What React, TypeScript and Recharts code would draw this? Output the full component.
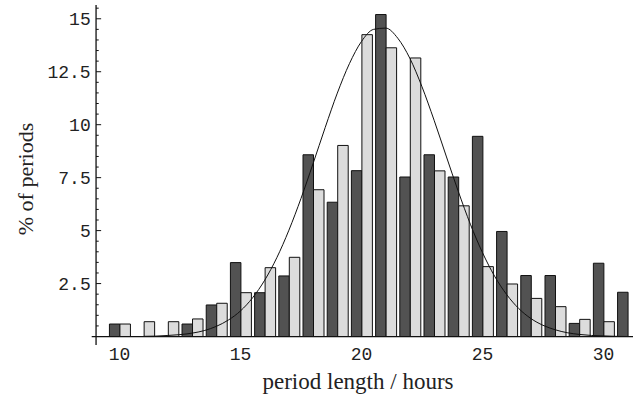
import { ComposedChart, Bar, Line, XAxis, YAxis, ReferenceLine } from "recharts"

// histogram bins (hours) and the two series of percentages
const HOURS = [10, 11, 12, 13, 14, 15, 16, 17, 18, 19, 20, 21, 22, 23, 24, 25, 26, 27, 28, 29, 30, 31]
const DARK = [0.59, 0, 0, 0.59, 1.49, 3.49, 2.07, 2.86, 8.58, 6.34, 7.83, 15.2, 7.53, 8.58, 7.53, 9.45, 4.96, 2.88, 2.88, 0.62, 3.46, 2.09]
const LIGHT = [0.59, 0.7, 0.7, 0.83, 1.57, 2.07, 3.25, 3.74, 6.93, 9.02, 14.25, 13.63, 13.15, 7.82, 6.17, 3.3, 2.48, 1.8, 1.41, 0.81, 0.7, 0]

// fitted curve, every half hour
const CURVE_X = [11, 11.5, 12, 12.5, 13, 13.5, 14, 14.5, 15, 15.5, 16, 16.5, 17, 17.5, 18, 18.5, 19, 19.5, 20, 20.5, 21, 21.5, 22, 22.5, 23, 23.5, 24, 24.5, 25, 25.5, 26, 26.5, 27, 27.5, 28, 28.5, 29, 29.5, 30, 30.5, 31]
const CURVE_Y = [0.01, 0.02, 0.05, 0.09, 0.16, 0.28, 0.48, 0.78, 1.21, 1.83, 2.66, 3.72, 5.02, 6.52, 8.17, 9.87, 11.49, 12.88, 13.93, 14.5, 14.56, 14.08, 13.13, 11.79, 10.21, 8.52, 6.85, 5.3, 3.96, 2.85, 1.98, 1.32, 0.85, 0.53, 0.32, 0.18, 0.1, 0.05, 0.03, 0.01, 0]

const X_TICKS = [10, 15, 20, 25, 30]
const Y_TICKS = [2.5, 5, 7.5, 10, 12.5, 15]
const Y_MINOR = Array.from({ length: 31 }, (_, i) => (i + 1) * 0.5).filter((v) => !Y_TICKS.includes(v))

const X_DOMAIN: [number, number] = [8.85, 31.22]
const Y_DOMAIN: [number, number] = [-0.4, 15.65]
const AXIS_X = 9.03

const TICK_FONT = "'Liberation Mono', monospace"
const TITLE_FONT = "'Liberation Serif', serif"

const bars = HOURS.map((x, i) => ({ x, dark: DARK[i], light: LIGHT[i] }))
const curve = CURVE_X.map((x, i) => ({ x, v: CURVE_Y[i] }))

const fmt = (v: number) => String(v)

const YTick = ({ x, y, payload }: any) => (
    <text x={x} y={y + 6} textAnchor="end" fontFamily={TICK_FONT} fontSize={18} fill="#222">
        {fmt(payload.value)}
    </text>
)

const XTick = ({ x, y, payload }: any) => (
    <text x={x} y={y + 15} textAnchor="middle" fontFamily={TICK_FONT} fontSize={18} fill="#222">
        {fmt(payload.value)}
    </text>
)

export default function App() {
    return (
        <div style={{ position: "absolute", left: 0, top: 0, width: 637, height: 399, background: "#fff" }}>
            <ComposedChart
                width={637}
                height={399}
                data={bars}
                margin={{ top: 5, right: 4, bottom: 24, left: 31.7 }}
                barGap={0}
            >
                <XAxis
                    type="number"
                    dataKey="x"
                    domain={X_DOMAIN}
                    allowDataOverflow
                    ticks={X_TICKS}
                    axisLine={false}
                    tickLine={false}
                    tickSize={0}
                    tickMargin={0}
                    height={30}
                    tick={<XTick />}
                />
                <XAxis xAxisId="curve" type="number" dataKey="x" domain={X_DOMAIN} allowDataOverflow hide />
                <YAxis
                    type="number"
                    domain={Y_DOMAIN}
                    allowDataOverflow
                    ticks={Y_TICKS}
                    axisLine={false}
                    tickLine={false}
                    tickSize={0}
                    tickMargin={1}
                    width={60}
                    tick={<YTick />}
                />
                <Bar dataKey="dark" barSize={10.5} fill="#525252" stroke="#111" strokeWidth={1} isAnimationActive={false} />
                <Bar dataKey="light" barSize={10.5} fill="#dcdcdc" stroke="#111" strokeWidth={1} isAnimationActive={false} />
                <Line
                    xAxisId="curve"
                    data={curve}
                    dataKey="v"
                    type="monotone"
                    stroke="#111"
                    strokeWidth={1}
                    dot={false}
                    activeDot={false}
                    isAnimationActive={false}
                />
                <ReferenceLine y={0} stroke="#111" strokeWidth={1.3} />
                <ReferenceLine x={AXIS_X} stroke="#111" strokeWidth={1.3} />
                {Y_TICKS.map((v) => (
                    <ReferenceLine
                        key={`maj-${v}`}
                        segment={[{ x: AXIS_X, y: v }, { x: AXIS_X + 0.21, y: v }]}
                        stroke="#111"
                        strokeWidth={1}
                    />
                ))}
                {Y_MINOR.map((v) => (
                    <ReferenceLine
                        key={`min-${v}`}
                        segment={[{ x: AXIS_X, y: v }, { x: AXIS_X + 0.11, y: v }]}
                        stroke="#111"
                        strokeWidth={1}
                    />
                ))}
            </ComposedChart>
            <svg width={637} height={399} style={{ position: "absolute", left: 0, top: 0, pointerEvents: "none" }}>
                <text x={358} y={389} textAnchor="middle" fontFamily={TITLE_FONT} fontSize={23} fill="#222">
                    period length / hours
                </text>
                <text
                    transform="translate(33,179) rotate(-90)"
                    textAnchor="middle"
                    fontFamily={TITLE_FONT}
                    fontSize={22}
                    fill="#222"
                >
                    % of periods
                </text>
            </svg>
        </div>
    )
}
